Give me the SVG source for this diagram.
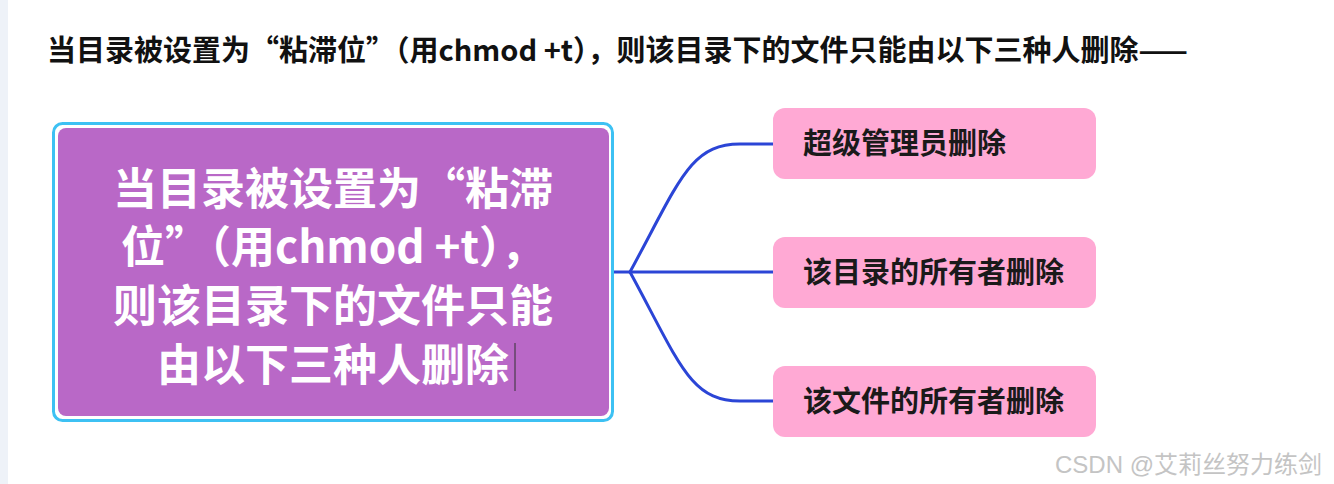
<svg xmlns="http://www.w3.org/2000/svg" width="1334" height="484" viewBox="0 0 1334 484">
  <style>
    .cjk { font-family: "Noto Sans CJK SC", "Noto Sans", sans-serif; font-weight: 700; }
    .title { font-size: 29px; fill: #111111; }
    .main { font-size: 44px; fill: #ffffff; text-anchor: middle; }
    .leaf { font-size: 29px; fill: #1a1a1a; }
    .leafbox { fill: #FFA9D4; }
    .conn { fill: none; stroke: #2B45D6; stroke-width: 3; stroke-linecap: round; }
    .wm { font-family: "Liberation Sans", "Noto Sans CJK SC", sans-serif; font-size: 24px; fill: #c4c4c4; }
  </style>
  <rect x="0" y="0" width="1334" height="484" fill="#ffffff"/>
  <rect x="0" y="0" width="8" height="484" fill="#EEF2F8"/>

  <text class="cjk title" x="47" y="61">当目录被设置为“粘滞位”（用chmod +t），则该目录下的文件只能由以下三种人删除——</text>

  <g id="connectors">
    <path class="conn" d="M613 272 H630"/>
    <path class="conn" d="M630 272 C680 180 690 144 740 144 H773"/>
    <path class="conn" d="M630 272 H773"/>
    <path class="conn" d="M630 272 C680 364 690 401 740 401 H773"/>
  </g>

  <g id="root">
    <rect x="53.5" y="123.5" width="559" height="297" rx="9" fill="none" stroke="#3DC1F3" stroke-width="3"/>
    <rect x="58" y="128" width="551" height="288" rx="8" fill="#B968C7"/>
    <text class="cjk main" x="333" y="205">当目录被设置为“粘滞</text>
    <text class="cjk main" x="333" y="263">位”（用chmod +t），</text>
    <text class="cjk main" x="333" y="322">则该目录下的文件只能</text>
    <text class="cjk main" x="333" y="381">由以下三种人删除</text>
    <line x1="515" y1="343" x2="515" y2="391" stroke="#333333" stroke-width="1"/>
  </g>

  <g id="leaf1">
    <rect class="leafbox" x="773" y="108" width="323" height="71" rx="12"/>
    <text class="cjk leaf" x="803" y="154">超级管理员删除</text>
  </g>
  <g id="leaf2">
    <rect class="leafbox" x="773" y="237" width="323" height="71" rx="12"/>
    <text class="cjk leaf" x="803" y="283">该目录的所有者删除</text>
  </g>
  <g id="leaf3">
    <rect class="leafbox" x="773" y="366" width="323" height="71" rx="12"/>
    <text class="cjk leaf" x="803" y="412">该文件的所有者删除</text>
  </g>

  <text class="wm" x="1055" y="473">CSDN @艾莉丝努力练剑</text>
</svg>
